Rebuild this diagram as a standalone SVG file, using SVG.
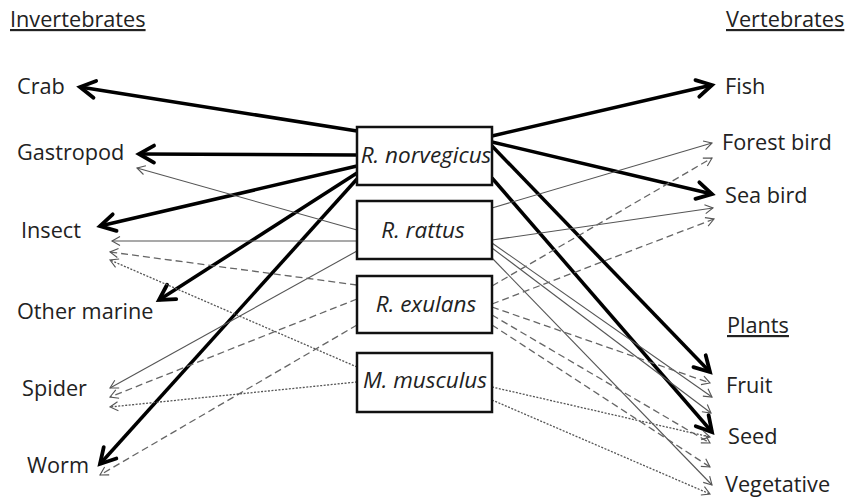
<svg xmlns="http://www.w3.org/2000/svg" width="848" height="498" viewBox="0 0 848 498">
<style>
text{font-family:"Open Sans","Liberation Sans",sans-serif;font-size:21.7px;fill:#222}
.hd{text-decoration:underline}
.sp{font-style:italic;text-anchor:middle;font-size:22.5px}
.box{fill:#fff;stroke:#111;stroke-width:2.5}
.thick{stroke:#000;stroke-width:3.5;fill:none;marker-end:url(#ah)}
.solid{stroke:#555;stroke-width:1.1;fill:none;marker-end:url(#at)}
.dash{stroke:#666;stroke-width:1.3;fill:none;stroke-dasharray:7 4;marker-end:url(#at)}
.dot{stroke:#555;stroke-width:1.3;fill:none;stroke-dasharray:2 1.5;marker-end:url(#at)}
</style>
<defs>
<marker id="ah" markerUnits="userSpaceOnUse" viewBox="-18 -10 22 20" refX="0" refY="0" markerWidth="22" markerHeight="20" orient="auto" overflow="visible">
<path d="M-15,-8.5 L0,0 L-15,8.5" fill="none" stroke="#000" stroke-width="3.8" stroke-linecap="round" stroke-linejoin="miter"/>
</marker>
<marker id="at" markerUnits="userSpaceOnUse" viewBox="-10 -6 12 12" refX="0" refY="0" markerWidth="12" markerHeight="12" orient="auto" overflow="visible">
<path d="M-8,-4.5 L0,0 L-8,4.5" fill="none" stroke="#555" stroke-width="1.1"/>
</marker>
</defs>
<rect width="848" height="498" fill="#fff"/>
<g id="connectors">
<path class="thick" d="M357,131 L80,87"/>
<path class="thick" d="M357,155 L139,154"/>
<path class="thick" d="M357,166 L100,226"/>
<path class="thick" d="M357,173 L159,300"/>
<path class="thick" d="M357,179 L100,464"/>
<path class="thick" d="M492,136 L712,85"/>
<path class="thick" d="M492,142 L712,194"/>
<path class="thick" d="M492,146 L710,372"/>
<path class="thick" d="M492,178 L712,432"/>
<path class="solid" d="M357,230 L137,168"/>
<path class="solid" d="M357,241 L112,241"/>
<path class="solid" d="M357,251 L110,388"/>
<path class="solid" d="M492,208 L712,143"/>
<path class="solid" d="M492,240 L713,208"/>
<path class="solid" d="M492,243 L712,397"/>
<path class="solid" d="M492,248 L711,413"/>
<path class="solid" d="M492,258 L712,485"/>
<path class="dash" d="M357,285 L110,252"/>
<path class="dash" d="M357,299 L110,397"/>
<path class="dash" d="M357,325 L100,475"/>
<path class="dash" d="M492,286 L712,158"/>
<path class="dash" d="M492,304 L714,219"/>
<path class="dash" d="M492,307 L710,383"/>
<path class="dash" d="M492,315 L710,443"/>
<path class="dash" d="M492,325 L710,467"/>
<path class="dot" d="M357,367 L110,260"/>
<path class="dot" d="M357,382 L110,407"/>
<path class="dot" d="M492,387 L710,437"/>
<path class="dot" d="M492,400 L710,494"/>
</g>
<g id="n-norvegicus"><rect class="box" x="357" y="127" width="135" height="58"/><text class="sp" x="426" y="163">R. norvegicus</text></g>
<g id="n-rattus"><rect class="box" x="357" y="201" width="135" height="58"/><text class="sp" x="423" y="238">R. rattus</text></g>
<g id="n-exulans"><rect class="box" x="357" y="276" width="135" height="57"/><text class="sp" x="426" y="312">R. exulans</text></g>
<g id="n-musculus"><rect class="box" x="357" y="353" width="135" height="59"/><text class="sp" x="425" y="388">M. musculus</text></g>
<g id="h-invertebrates"><text class="hd" x="10" y="27">Invertebrates</text></g>
<g id="h-vertebrates"><text class="hd" x="726" y="27">Vertebrates</text></g>
<g id="h-plants"><text class="hd" x="727" y="333">Plants</text></g>
<g id="crab"><text x="17" y="94">Crab</text></g>
<g id="gastropod"><text x="17" y="160">Gastropod</text></g>
<g id="insect"><text x="21" y="238">Insect</text></g>
<g id="other-marine"><text x="17" y="319">Other marine</text></g>
<g id="spider"><text x="22" y="396">Spider</text></g>
<g id="worm"><text x="27" y="473">Worm</text></g>
<g id="fish"><text x="725" y="94">Fish</text></g>
<g id="forest-bird"><text x="722" y="150">Forest bird</text></g>
<g id="sea-bird"><text x="725" y="203">Sea bird</text></g>
<g id="fruit"><text x="726" y="393">Fruit</text></g>
<g id="seed"><text x="728" y="444">Seed</text></g>
<g id="vegetative"><text x="725" y="492">Vegetative</text></g>
</svg>
